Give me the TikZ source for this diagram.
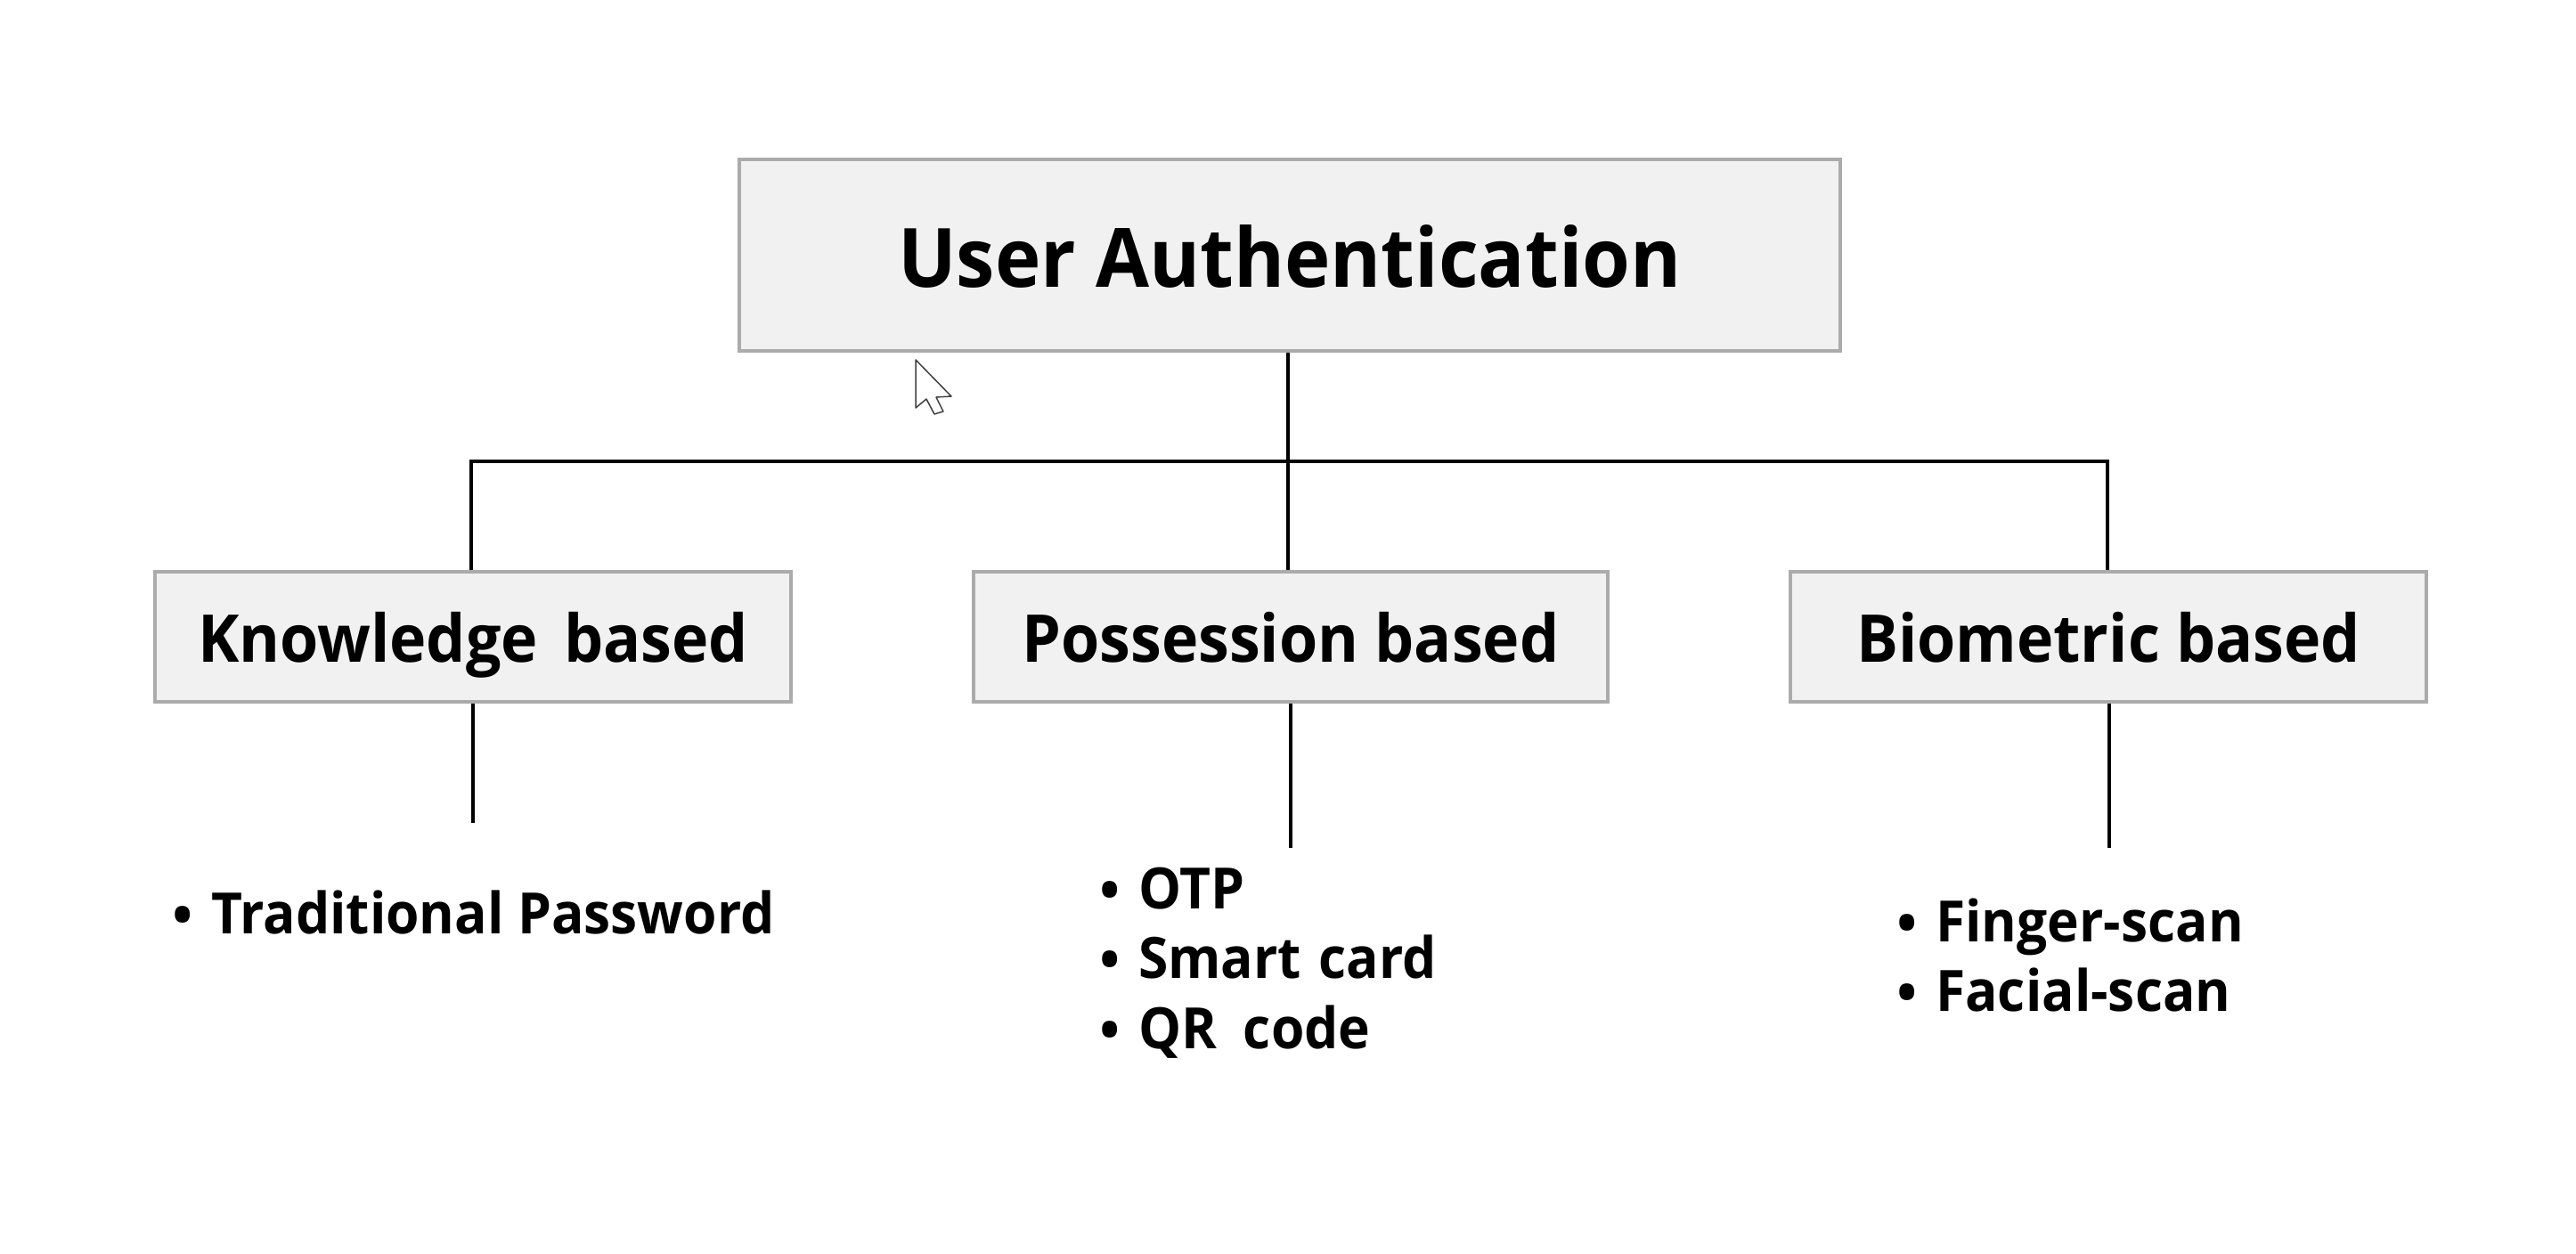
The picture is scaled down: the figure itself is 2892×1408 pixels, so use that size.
\documentclass[tikz,border=0pt]{standalone}
\usepackage{fontspec}
\setmainfont{Open Sans Bold}[FakeStretch=0.945]
\newfontfamily\regfont{Open Sans}
\newcommand{\titlesize}{\fontsize{92}{100}\selectfont}
\newcommand{\headsize}{\fontsize{74}{80}\selectfont}
\newcommand{\itemsize}{\fontsize{64}{70}\selectfont}
\newcommand{\bul}[1]{\makebox[47pt][l]{\raisebox{-7pt}{\regfont\fontsize{78}{78}\selectfont\textbullet}}#1}
\definecolor{boxgrey}{HTML}{ABABAB}
\definecolor{boxfill}{HTML}{F1F1F1}
\tikzset{
  box/.style={draw=boxgrey,fill=boxfill,line width=4pt,rectangle,inner sep=0pt,anchor=north west},
  titlebox/.style={box,minimum width=1236pt,minimum height=215pt,font=\titlesize,text height=81pt,text depth=10pt},
  headbox/.style={box,minimum width=714pt,minimum height=146pt,font=\headsize,text height=66pt,text depth=10pt},
  wire/.style={draw=black,line width=4.5pt},
  itm/.style={anchor=base west,inner sep=0pt,font=\itemsize,text=black},
}
\begin{document}
\begin{tikzpicture}[x=1pt,y=-1pt]
\useasboundingbox (0,0) rectangle (2892,1408);
\node[titlebox] (top) at (828,177) {User Authentication};
\node[headbox] (know) at (172,640) {Knowledge\hspace{11pt} based};
\node[headbox,minimum width=712pt] (poss) at (1091,640) {Possession based};
\node[headbox] (bio) at (2008,640) {Biometric based};
\coordinate (bus) at (1446,518);
\coordinate (kbus) at (529,518);
\coordinate (bbus) at (2366,518);
\coordinate (kend) at (531,924);
\coordinate (pend) at (1449,952);
\coordinate (bend) at (2368,952);
\draw[wire] (bus |- top.south) -- (bus |- poss.north);
\draw[wire] (kbus |- know.north) -- (kbus) -- (bbus) -- (bbus |- bio.north);
\draw[wire] (kend |- know.south) -- (kend);
\draw[wire] (pend |- poss.south) -- (pend);
\draw[wire] (bend |- bio.south) -- (bend);
\node[itm] (i1) at (190,1048) {\bul{Traditional Password}};
\node[itm] (i2) at (1231,1020) {\bul{OTP}};
\node[itm] (i3) at (1231,1098) {\bul{Smart\hspace{4pt} card}};
\node[itm] (i4) at (1231,1177) {\bul{QR\hspace{14pt} code}};
\node[itm] (i5) at (2126,1057) {\bul{Finger-scan}};
\node[itm] (i6) at (2126,1135) {\bul{Facial-scan}};
\draw[draw=black!75,fill=white,line width=1.5pt,line join=round]
  (1028,404) -- (1068,445) -- (1051,446) -- (1059,462) -- (1049,465) -- (1040,448) -- (1028,458) -- cycle;
\end{tikzpicture}
\end{document}
